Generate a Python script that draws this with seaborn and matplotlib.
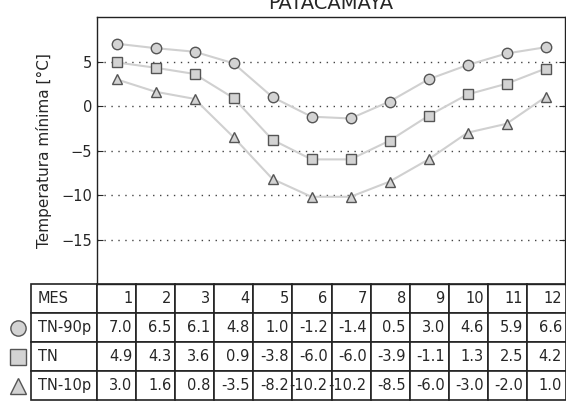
import matplotlib
matplotlib.use("Agg")
import matplotlib.pyplot as plt
import pandas as pd
import seaborn as sns

months = list(range(1, 13))
series_names = ["TN-90p", "TN", "TN-10p"]
tn90p = [7.0, 6.5, 6.1, 4.8, 1.0, -1.2, -1.4, 0.5, 3.0, 4.6, 5.9, 6.6]
tn = [4.9, 4.3, 3.6, 0.9, -3.8, -6.0, -6.0, -3.9, -1.1, 1.3, 2.5, 4.2]
tn10p = [3.0, 1.6, 0.8, -3.5, -8.2, -10.2, -10.2, -8.5, -6.0, -3.0, -2.0, 1.0]
series_values = [tn90p, tn, tn10p]
marker_map = {"TN-90p": "o", "TN": "s", "TN-10p": "^"}
yticks = [-15, -10, -5, 0, 5]

long = pd.DataFrame({
    "MES": months * len(series_names),
    "valor": tn90p + tn + tn10p,
    "serie": [s for s in series_names for _ in months],
})

sns.set_style("ticks")
plt.rcParams["font.family"] = ["DejaVu Sans"]

W, H = 566, 405
fig = plt.figure(figsize=(W / 100, H / 100), dpi=100)
# axes box in pixels: left 97, right 565, top 17, bottom 284
ax_l, ax_r, ax_t, ax_b = 97, 565, 17, 284
ax = fig.add_axes([ax_l / W, (H - ax_b) / H, (ax_r - ax_l) / W, (ax_b - ax_t) / H])

face = "#d3d3d3"
edge = "#555555"
sns.lineplot(
    data=long, x="MES", y="valor", hue="serie", style="serie",
    markers=marker_map, dashes=False,
    palette={s: "#d0d0d0" for s in series_names},
    linewidth=1.5, markersize=7.5,
    markerfacecolor=face, markeredgecolor=edge, markeredgewidth=1.0,
    legend=False, ax=ax,
)

ax.set_xlim(0.5, 12.5)
ax.set_ylim(-20, 10)
ax.set_yticks(yticks)
ax.set_xticks([])
ax.set_xlabel("")
ax.set_ylabel("Temperatura mínima [°C]", fontsize=11, labelpad=7)
ax.tick_params(axis="y", direction="in", right=True, labelsize=10.5, length=4)
ax.grid(axis="y", linestyle=(0, (1, 4)), color="#444444", linewidth=1.0)
for sp in ax.spines.values():
    sp.set_linewidth(1.0)
    sp.set_color("#222222")
ax.set_title("PATACAMAYA", fontsize=14, pad=6)

# table below the axes
cell_text = [["MES"] + [str(m) for m in months]]
for name, vals in zip(series_names, series_values):
    cell_text.append([name] + [f"{v:.1f}" for v in vals])

axw, axh = ax_r - ax_l, ax_b - ax_t
tab_l, tab_r, tab_h = 31, 566, 116
col_w = [66] + [39] * 12
tbl = ax.table(
    cellText=cell_text, cellLoc="right", colWidths=col_w,
    bbox=[(tab_l - ax_l) / axw, -tab_h / axh, (tab_r - tab_l) / axw, tab_h / axh],
)
tbl.auto_set_font_size(False)
tbl.set_fontsize(10.5)
for (r, c), cell in tbl.get_celld().items():
    cell.set_linewidth(1.2)
    cell.set_edgecolor("#222222")
    if c == 0:
        cell.get_text().set_horizontalalignment("left")

# marker keys left of the table rows
row_h = tab_h / 4
for i, name in enumerate(series_names):
    yc = ax_b + row_h * (i + 1.5)
    ax.plot([(18 - ax_l) / axw], [-(yc - ax_b) / axh], marker=marker_map[name],
            markersize=11, markerfacecolor=face, markeredgecolor=edge,
            markeredgewidth=1.0, transform=ax.transAxes, clip_on=False)

fig.savefig("out.png", dpi=100)
